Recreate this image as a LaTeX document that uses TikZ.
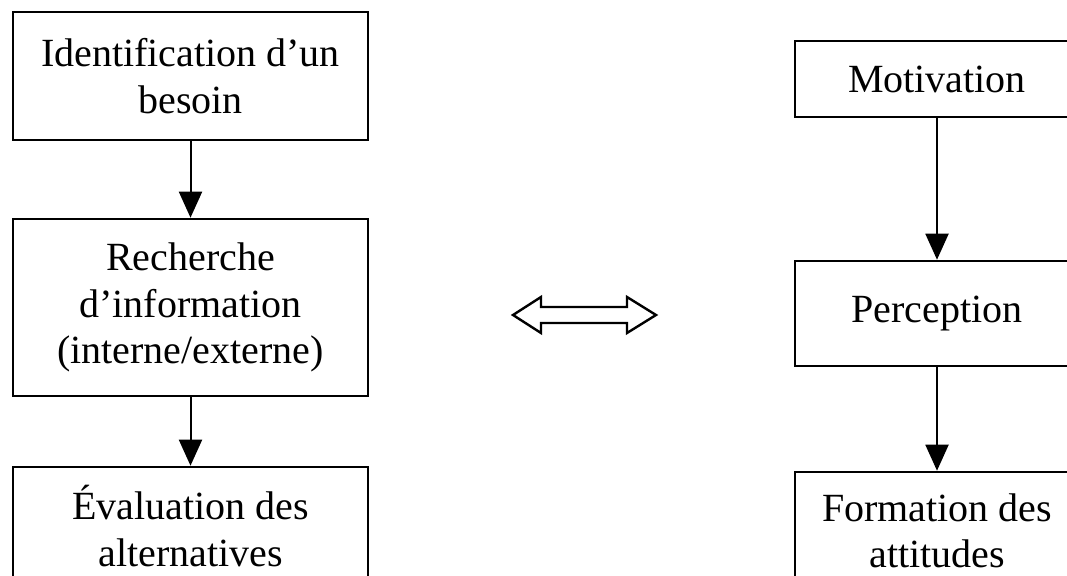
\documentclass[tikz,border=0pt]{standalone}
\usepackage{fontspec}
\setmainfont{Liberation Serif}
\usetikzlibrary{arrows.meta}
\begin{document}
\begin{tikzpicture}[x=1pt,y=-1pt,
  stagebox/.style={draw, line width=2.6pt, inner sep=0pt, align=center,
    font=\fontsize{40}{46.5}\selectfont},
  flow/.style={line width=2pt, -{Triangle[length=26pt,width=23pt]}}]
  \useasboundingbox (0,0) rectangle (1067,575);
  \clip (0,0) rectangle (1067,575);
  \fill[white] (0,0) rectangle (1067,575);

  % left column: decision process
  \node[stagebox, minimum width=355pt, minimum height=128pt] (need) at (190.5,76)
    {Identification d’un\\besoin};
  \node[stagebox, minimum width=355pt, minimum height=177pt] (search) at (190.5,307.5)
    {Recherche\\d’information\\(interne/externe)};
  \node[stagebox, minimum width=355pt, minimum height=118pt] (eval) at (190.5,526)
    {Évaluation des\\alternatives};

  % right column: psychological factors
  \node[stagebox, minimum width=284pt, minimum height=76pt] (motiv) at (937,79)
    {Motivation};
  \node[stagebox, minimum width=284pt, minimum height=105pt] (percep) at (937,313.5)
    {Perception};
  \node[stagebox, minimum width=284pt, minimum height=118pt] (attit) at (937,531)
    {Formation des\\attitudes};

  \draw[flow] (need.south) -- (search.north);
  \draw[flow] (search.south) -- (eval.north);
  \draw[flow] (motiv.south) -- (percep.north);
  \draw[flow] (percep.south) -- (attit.north);

  % hollow two-way arrow between the columns
  \draw[line width=2.4pt, line join=miter]
    (513,315) -- (541,297) -- (541,307) -- (627,307) -- (627,297) -- (656,315)
    -- (627,333) -- (627,323) -- (541,323) -- (541,333) -- cycle;
\end{tikzpicture}
\end{document}
